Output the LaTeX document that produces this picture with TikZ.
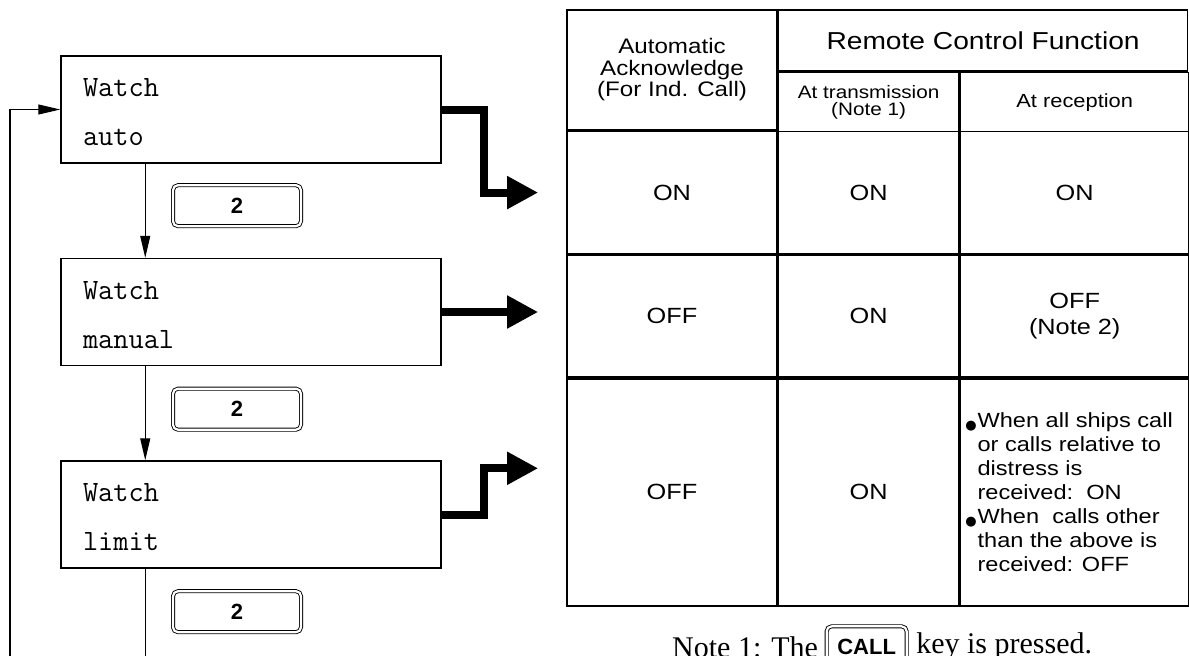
\documentclass[tikz,border=0pt]{standalone}
\usepackage{fontspec}
\setmainfont{Liberation Serif}
\newfontfamily\tabfont[FakeStretch=1.15]{Liberation Sans}
\newfontfamily\keyfont{Liberation Sans}
\newfontfamily\dotfont{DejaVu Sans}
\usetikzlibrary{arrows.meta,positioning}

\newcommand{\refdot}{\llap{\raisebox{-2pt}{\dotfont\fontsize{13}{13}\selectfont ●}\hspace{1pt}}}

\begin{document}
\begin{tikzpicture}
[ x=1pt, y=1pt, node distance=94pt and 0pt,
		display/.style={rectangle,draw,line width=1.5pt,minimum width=380pt,minimum height=107pt,text width=336pt,inner xsep=22pt,align=left,font=\ttfamily\fontsize{29.5}{49}\selectfont,execute at begin node=\rule{0pt}{24pt}},
		keycap/.style={rectangle,draw,rounded corners=5pt,double,double distance=2.2pt,line width=0.9pt,minimum width=128pt,minimum height=41pt,font=\keyfont\bfseries\fontsize{22}{22}\selectfont},
		cell/.style={rectangle,draw,line width=1.6pt,align=center,inner sep=0pt,font=\tabfont\fontsize{22}{26}\selectfont},
		bullets/.style={align=left,inner sep=0pt,font=\tabfont\fontsize{20.5}{24}\selectfont},
		arrowThin/.style={-{Triangle[length=22pt,width=10pt]},line width=1.1pt},
		arrowThick/.style={-{Triangle[length=31pt,width=31pt]},line width=8pt}]

	\useasboundingbox (0,0) rectangle (1189,-656);
	\clip (0,0) rectangle (1189,-656);

	\node[display] (auto) at (251,-109.5) {Watch\\auto};
	\node[display] (manual) [below=of auto] {Watch\\manual};
	\node[display] (limit) [below=of manual] {Watch\\limit};

	\node[keycap] (key auto) [below=21pt of auto.south, xshift=-14pt] {2};
	\node[keycap] (key manual) [below=22pt of manual.south, xshift=-14pt] {2};
	\node[keycap] (key limit) [below=22pt of limit.south, xshift=-14pt] {2};

	\coordinate (loop) at (10,-700);
	\draw[arrowThin] ([xshift=85pt]auto.south west) -- ([xshift=85pt]manual.north west);
	\draw[arrowThin] ([xshift=85pt]manual.south west) -- ([xshift=85pt]limit.north west);
	\draw[arrowThin] ([xshift=85pt]limit.south west) |- (loop) |- (auto.west);

	% table head
	\node[cell,minimum width=210pt,minimum height=120pt,font=\tabfont\fontsize{21}{21.5}\selectfont] (ack) at (672,-70) {Automatic\\Acknowledge\\(For Ind. Call)};
	\node[cell,minimum width=409pt,minimum height=61pt,anchor=north west,font=\tabfont\fontsize{24.5}{24}\selectfont] (remote) at (ack.north east) {Remote Control Function};
	\node[cell,minimum width=180pt,minimum height=59pt,anchor=north west,font=\tabfont\fontsize{18}{17.5}\selectfont] (trans) at (remote.south west) {At transmission\\(Note 1)};
	\node[cell,minimum width=229pt,minimum height=59pt,anchor=north west,font=\tabfont\fontsize{19}{19}\selectfont] (recep) at (trans.north east) {At reception};

	% table rows
	\node[cell,minimum width=210pt,minimum height=122pt,anchor=north west] (on a) at (ack.south west) {ON};
	\node[cell,minimum width=180pt,minimum height=122pt,anchor=north west] (on b) at (on a.north east) {ON};
	\node[cell,minimum width=229pt,minimum height=122pt,anchor=north west] (on c) at (on b.north east) {ON};
	\node[cell,minimum width=210pt,minimum height=122pt,anchor=north west] (man a) at (on a.south west) {OFF};
	\node[cell,minimum width=180pt,minimum height=122pt,anchor=north west] (man b) at (man a.north east) {ON};
	\node[cell,minimum width=229pt,minimum height=122pt,anchor=north west] (man c) at (man b.north east) {OFF\\(Note 2)};
	\node[cell,minimum width=210pt,minimum height=227pt,anchor=north west] (lim a) at (man a.south west) {OFF};
	\node[cell,minimum width=180pt,minimum height=227pt,anchor=north west] (lim b) at (lim a.north east) {ON};
	\node[cell,minimum width=229pt,minimum height=227pt,anchor=north west] (lim c) at (lim b.north east) {};
	\node[bullets,anchor=west] (lim text) [right=18pt of lim c.west] {\refdot When all ships call\\or calls relative to\\distress is\\received:\ \ ON\\\refdot When\ \ calls other\\than the above is\\received: OFF};

	\draw[arrowThick] (auto.east) -- ++(42,0) |- ([xshift=-28pt]on a.west);
	\draw[arrowThick] (manual.east) -- ([xshift=-28pt]man a.west |- manual.east);
	\draw[arrowThick] (limit.east) -- ++(42,0) |- ([xshift=-28pt,yshift=24pt]lim a.west);

	% note under the table
	\node[anchor=base west,inner sep=0pt,font=\fontsize{30}{30}\selectfont] (note) at (672,-657) {Note 1: The};
	\node[keycap,minimum width=80pt] (call) [right=8pt of note] {CALL};
	\node[inner sep=0pt,font=\fontsize{30}{30}\selectfont] (pressed) [right=9pt of call] {key is pressed.};
\end{tikzpicture}
\end{document}
